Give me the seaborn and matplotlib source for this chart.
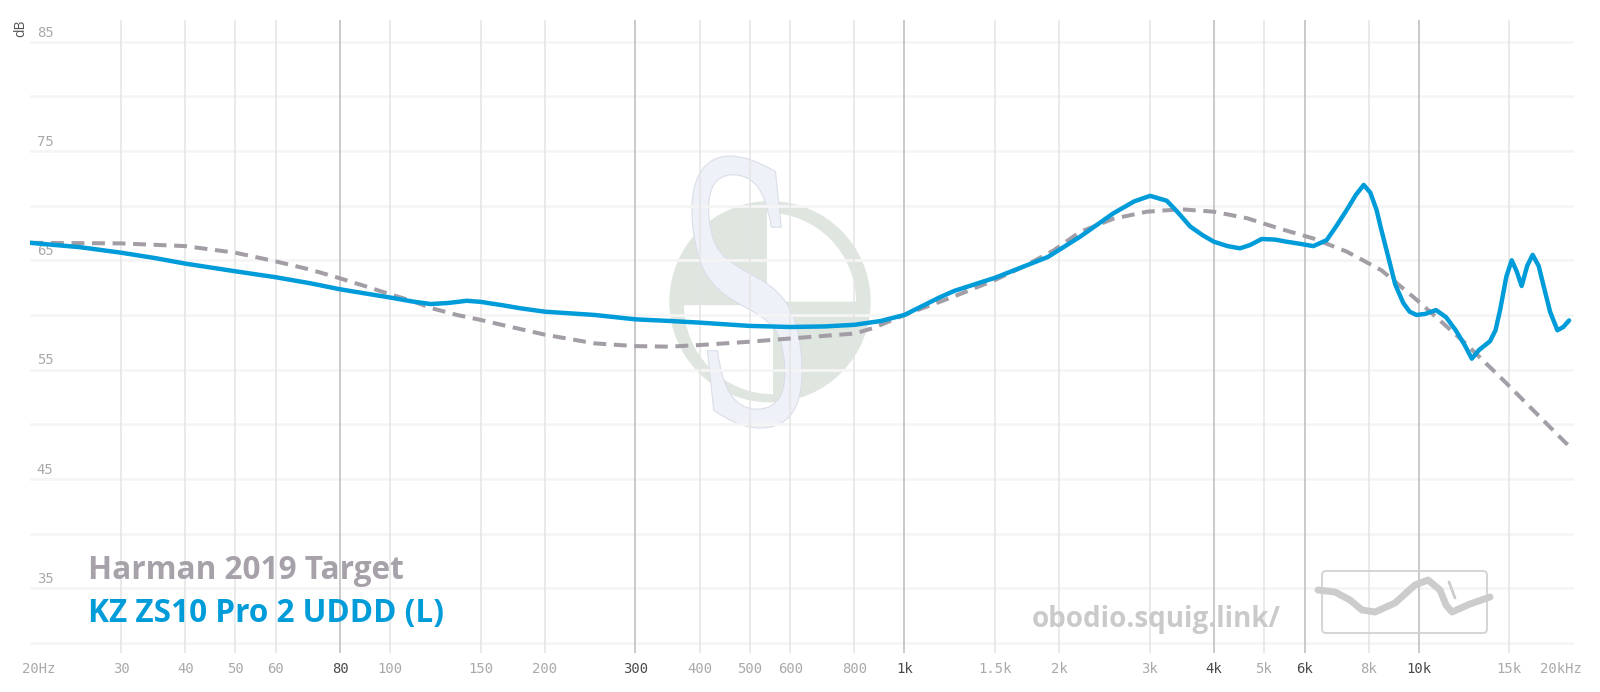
import numpy as np
import pandas as pd
import seaborn as sns
import matplotlib.pyplot as plt
from matplotlib import transforms
from matplotlib.patches import Circle, Wedge, PathPatch, FancyBboxPatch
from matplotlib.textpath import TextPath
from matplotlib.font_manager import FontProperties

# Measured response, KZ ZS10 Pro 2 UDDD (L)
kz_freq = [20, 25, 30, 35, 40, 50, 60, 70, 80, 90, 100, 110, 120, 130, 141, 150,
           165, 180, 200, 250, 300, 350, 400, 500, 600, 700, 800, 900, 1000, 1170,
           1250, 1500, 1900, 2196, 2548, 2800, 3004, 3237, 3400, 3594, 3800, 3998,
           4250, 4493, 4700, 4951, 5250, 5537, 5900, 6238, 6623, 6930, 7243, 7550,
           7816, 8050, 8280, 8457, 8660, 9000, 9330, 9600, 9900, 10300, 10800,
           11300, 11800, 12300, 12680, 13100, 13760, 14100, 14400, 14800, 15160,
           15500, 15850, 16250, 16650, 17100, 17500, 18000, 18600, 19100, 19600]
kz_db = [66.6, 66.2, 65.7, 65.2, 64.7, 64.0, 63.45, 62.9, 62.35, 61.95, 61.6, 61.25,
         61.0, 61.1, 61.3, 61.2, 60.9, 60.6, 60.3, 60.0, 59.6, 59.45, 59.3, 59.0,
         58.9, 58.95, 59.1, 59.45, 60.0, 61.6, 62.2, 63.4, 65.3, 67.16, 69.3, 70.4,
         70.9, 70.45, 69.4, 68.1, 67.3, 66.7, 66.3, 66.1, 66.4, 66.95, 66.9, 66.7,
         66.5, 66.3, 66.85, 68.2, 69.6, 71.0, 71.9, 71.2, 69.6, 67.8, 65.9, 62.8,
         61.1, 60.3, 60.0, 60.1, 60.45, 59.8, 58.6, 57.2, 56.0, 56.8, 57.6, 58.6,
         60.5, 63.5, 65.0, 64.0, 62.65, 64.5, 65.5, 64.5, 62.6, 60.3, 58.6, 58.9,
         59.5]

# Harman 2019 target
target_freq = [20, 30, 40, 50, 60, 70, 80, 90, 100, 110, 121, 135, 150, 163, 200,
               250, 300, 350, 400, 500, 600, 800, 870, 1000, 1250, 1500, 1700, 1950,
               2196, 2548, 2961, 3447, 3998, 4638, 5367, 6238, 7243, 8457, 9900,
               12200, 14700, 19300, 20000]
target_db = [66.6, 66.55, 66.3, 65.7, 64.9, 64.15, 63.35, 62.6, 61.9, 61.3, 60.6,
             60.0, 59.55, 59.15, 58.2, 57.4, 57.15, 57.1, 57.25, 57.55, 57.85, 58.3,
             58.8, 60.0, 61.7, 63.2, 64.4, 65.9, 67.6, 68.8, 69.45, 69.67, 69.45,
             68.85, 67.9, 67.0, 65.8, 64.1, 61.4, 57.6, 53.9, 48.3, 47.7]

minor_freqs = [30, 40, 50, 60, 100, 150, 200, 400, 500, 600, 800, 1500, 2000,
               3000, 5000, 8000, 15000]
major_freqs = [80, 300, 1000, 4000, 6000, 10000]
tick_freqs = [30, 40, 50, 60, 80, 100, 150, 200, 300, 400, 500, 600, 800, 1000,
              1500, 2000, 3000, 4000, 5000, 6000, 8000, 10000, 15000]
tick_labels = ['30', '40', '50', '60', '80', '100', '150', '200', '300', '400',
               '500', '600', '800', '1k', '1.5k', '2k', '3k', '4k', '5k', '6k',
               '8k', '10k', '15k']
db_labels = [85, 75, 65, 55, 45, 35]

BLUE = '#009CDA'
TARGET_GRAY = '#A39EA6'

sns.set_style('white')
plt.rcParams['font.family'] = ['Open Sans', 'DejaVu Sans']

fig = plt.figure(figsize=(16, 6.92), dpi=100)
ax = fig.add_axes([30.4 / 1600, 39 / 692, 1543.2 / 1600, 633 / 692])
ax.set_xscale('log')
ax.set_xlim(20, 20000)
ax.set_ylim(29.07, 86.99)
for s in ax.spines.values():
    s.set_visible(False)
ax.set_xticks([])
ax.xaxis.set_minor_locator(plt.NullLocator())
ax.set_yticks([])

# pixel transform (origin bottom-left of the figure) for decorations
px = transforms.Affine2D().scale(1 / 100) + fig.dpi_scale_trans

# watermark in the middle
cx, cy = 770, 692 - 301.7
ax.add_patch(Circle((cx, cy), 100.7, transform=px, facecolor='#DFE5DF',
                    edgecolor='none', zorder=0.2))
ax.add_patch(Wedge((cx - 3, cy), 89, 0, 90, transform=px, facecolor='white',
                   edgecolor='none', zorder=0.3))
ax.add_patch(Wedge((cx + 3, cy - 3.5), 89, 180, 270, transform=px,
                   facecolor='white', edgecolor='none', zorder=0.3))
sp = TextPath((0, 0), 'S', size=100, prop=FontProperties(family='DejaVu Serif'))
ext = sp.get_extents()
s_tr = (transforms.Affine2D().translate(-ext.x0, -ext.y0)
        .scale(95 / ext.width, 272 / ext.height)
        .skew_deg(-6, 0).translate(714, 692 - 428))
ax.add_patch(PathPatch(s_tr.transform_path(sp), transform=px, facecolor='#EEF1F8',
                       edgecolor='#DADEE8', lw=0.8, zorder=0.4))

# grid
for v in range(30, 90, 5):
    ax.axhline(v, color='#F5F5F5', lw=2.0, zorder=1)
for f in minor_freqs:
    ax.axvline(f, color='#E4E4E4', lw=1.1, zorder=1)
for f in major_freqs:
    ax.axvline(f, color='#BCBCBC', lw=1.1, zorder=1)

# curves
df_target = pd.DataFrame({'freq': target_freq, 'db': target_db})
df_kz = pd.DataFrame({'freq': kz_freq, 'db': kz_db})
sns.lineplot(data=df_target, x='freq', y='db', ax=ax, color=TARGET_GRAY,
             linewidth=2.9, zorder=3)
ax.lines[-1].set_dashes((3.2, 1.9))
sns.lineplot(data=df_kz, x='freq', y='db', ax=ax, color=BLUE, linewidth=3.2,
             zorder=4)
ax.lines[-1].set_solid_joinstyle('round')
ax.set_xlabel('')
ax.set_ylabel('')

# tick labels
mono = ['DejaVu Sans Mono']
xt = transforms.blended_transform_factory(ax.transData, ax.transAxes)
for f, lab in zip(tick_freqs, tick_labels):
    col = '#4A4A4A' if f in major_freqs else '#A9A9A9'
    ax.annotate(lab, xy=(f, 0), xycoords=xt, xytext=(0, -11.5),
                textcoords='offset points', ha='center', va='center',
                fontsize=10, color=col, family=mono)
ax.annotate('20Hz', xy=(20, 0), xycoords=xt, xytext=(-6, -11.5),
            textcoords='offset points', ha='left', va='center', fontsize=10,
            color='#A9A9A9', family=mono)
ax.annotate('20kHz', xy=(20000, 0), xycoords=xt, xytext=(6, -11.5),
            textcoords='offset points', ha='right', va='center', fontsize=10,
            color='#A9A9A9', family=mono)
yt = transforms.blended_transform_factory(ax.transAxes, ax.transData)
for v in db_labels:
    ax.annotate(str(v), xy=(0, v), xycoords=yt, xytext=(4.5, 6.6),
                textcoords='offset points', ha='left', va='center', fontsize=10,
                color='#A9A9A9', family=mono)
fig.text(21 / 1600, 1 - 28 / 692, 'dB', rotation=90, ha='center', va='center',
         fontsize=10, color='#555555')

# legend labels
fig.text(87.7 / 1600, 1 - 579 / 692, 'Harman 2019 Target', fontsize=22.7,
         fontweight='bold', color='#A7A2AA', va='baseline')
fig.text(87.7 / 1600, 1 - 621.7 / 692, 'KZ ZS10 Pro 2 UDDD (L)', fontsize=22.7,
         fontweight='bold', color=BLUE, va='baseline')

# site watermark and logo
fig.text(1031.7 / 1600, 1 - 627 / 692, 'obodio.squig.link/', fontsize=20,
         fontweight='bold', color='#CACACA', va='baseline')
ax.add_patch(FancyBboxPatch((1322, 692 - 633), 165, 62,
                            boxstyle='round,pad=0,rounding_size=4', transform=px,
                            facecolor='none', edgecolor='#D2D2D2', lw=1.3,
                            zorder=2, clip_on=False))
sq_x = [1318, 1335, 1350, 1362, 1375, 1395, 1415, 1428, 1440, 1446, 1452, 1470, 1490]
sq_y = [590, 592, 600, 610, 612, 603, 585, 580, 590, 605, 612, 604, 597]
ax.plot(sq_x, [692 - y for y in sq_y], transform=px, color='#CCCCCC', lw=5,
        solid_capstyle='round', solid_joinstyle='round', zorder=2, clip_on=False)
ax.plot([1449, 1455], [692 - 582, 692 - 598], transform=px, color='#CCCCCC',
        lw=2, zorder=2, clip_on=False)

fig.savefig('out.png', dpi=100)
